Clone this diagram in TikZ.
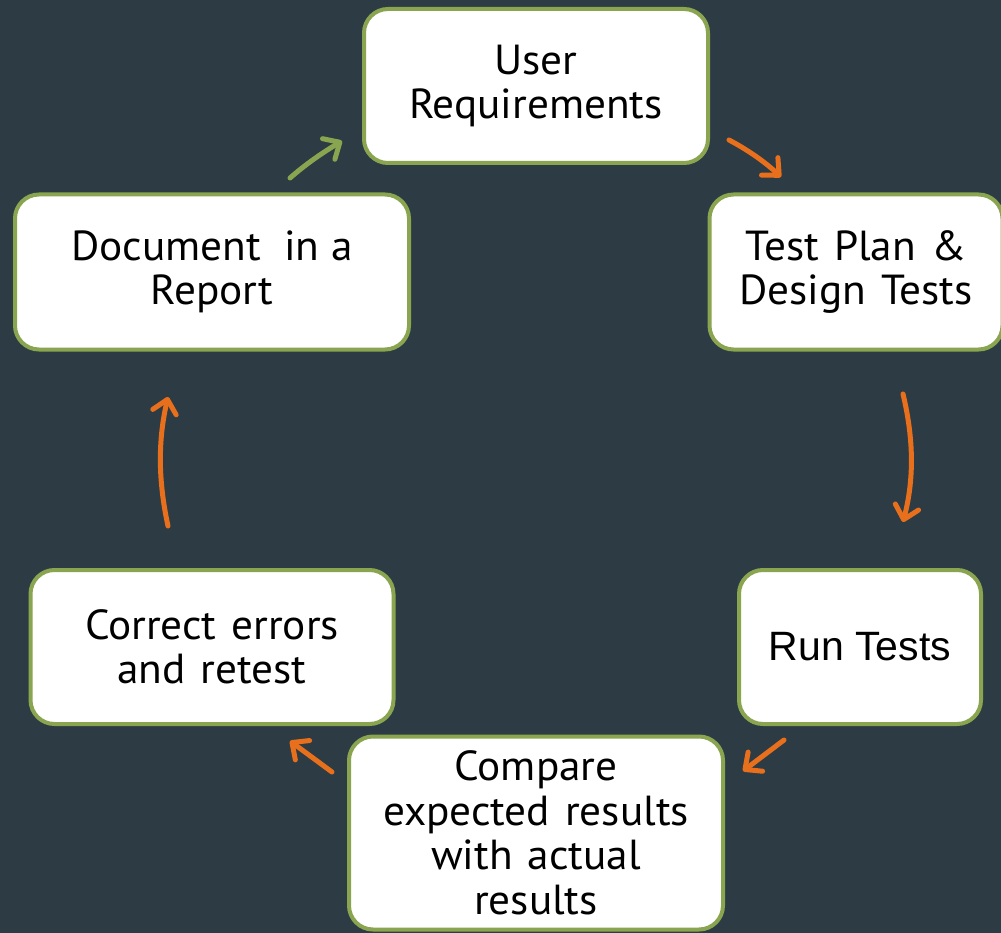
\documentclass[tikz,border=0pt]{standalone}
\usepackage{fontspec}
\setmainfont[FakeStretch=1.03,WordSpace=1.3]{PT Sans}
\newfontfamily\arialfont{Liberation Sans}
\usetikzlibrary{arrows.meta}
\definecolor{bgcol}{HTML}{2D3C44}
\definecolor{boxgreen}{HTML}{8AA54F}
\definecolor{arrorange}{HTML}{E86F1C}
\begin{document}
\begin{tikzpicture}[x=1pt,y=-1pt,
  stepbox/.style={draw=boxgreen, line width=4pt, fill=white, rounded corners=24pt,
    align=center, font=\fontsize{42}{44.5}\selectfont, text=black, inner sep=0pt},
  flowarrow/.style={draw=arrorange, line width=5pt, line cap=round,
    -{Straight Barb[length=13pt,width=24pt,line cap=round,line join=round]}},
  greenarrow/.style={flowarrow, draw=boxgreen}]
\useasboundingbox (0,0) rectangle (1001,933);
\fill[bgcol] (0,0) rectangle (1001,933);
\node[stepbox, minimum width=344pt, minimum height=154pt] (ur) at (536,86) {User\\Requirements};
\node[stepbox, minimum width=293pt, minimum height=155pt] (tp) at (856,272) {Test Plan \&\\Design Tests};
\node[stepbox, minimum width=394pt, minimum height=155pt] (doc) at (212,272) {Document\hspace{8pt} in\hspace{-3pt} a\\Report};
\node[stepbox, minimum width=242pt, minimum height=154pt, font=\arialfont\fontsize{41}{44}\selectfont] (run) at (860,647) {Run Tests};
\node[stepbox, minimum width=363pt, minimum height=154pt] (cor) at (212,647) {Correct errors\\and retest};
\node[stepbox, minimum width=374pt, minimum height=193pt] (cmp) at (536,833) {Compare\\expected results\\with actual\\results};
\coordinate (a1s) at (290,178); \coordinate (a1e) at (342,141);
\coordinate (a2s) at (729,140); \coordinate (a2e) at (781,177);
\coordinate (a3s) at (903,394); \coordinate (a3e) at (903,522);
\coordinate (a4s) at (784,740); \coordinate (a4e) at (743,771);
\coordinate (a5s) at (332,772); \coordinate (a5e) at (290,741);
\coordinate (a6s) at (168,526); \coordinate (a6e) at (168,397);
\draw[greenarrow] (a1s) .. controls (306,164) and (322,153) .. (a1e);
\draw[flowarrow] (a2s) .. controls (748,150) and (765,162) .. (a2e);
\draw[flowarrow] (a3s) .. controls (914,440) and (914,480) .. (a3e);
\draw[flowarrow] (a4s) -- (a4e);
\draw[flowarrow] (a5s) -- (a5e);
\draw[flowarrow] (a6s) .. controls (158,480) and (158,440) .. (a6e);
\end{tikzpicture}
\end{document}
